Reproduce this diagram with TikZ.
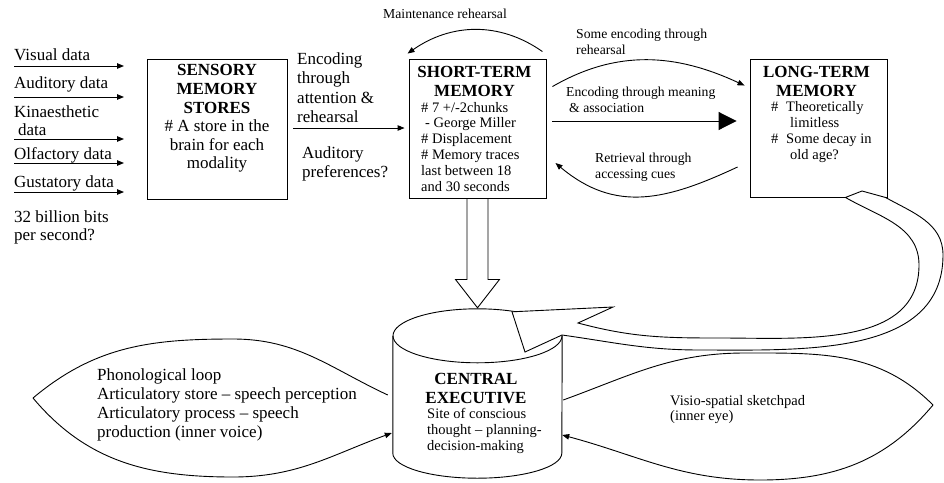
\documentclass[tikz,border=0pt]{standalone}
\usepackage{fontspec}
\setmainfont{Liberation Serif}
\usetikzlibrary{arrows.meta,calc,positioning}

\begin{document}
\begin{tikzpicture}[
    x=1pt, y=1pt,
    membox/.style={rectangle, draw, line width=0.9pt, inner sep=0},
    txtbig/.style={inner sep=0, font=\fontsize{17}{19}\selectfont, align=left},
    txtmid/.style={inner sep=0, font=\fontsize{14.5}{15.8}\selectfont, align=left},
    txtsml/.style={inner sep=0, font=\fontsize{13.7}{16.5}\selectfont, align=left},
    boxhead/.style={inner sep=0, font=\fontsize{17}{18.7}\selectfont\bfseries, align=center},
    arrow/.style={-{Triangle[length=7pt,width=5.5pt]}, line width=0.9pt},
    wire/.style={line width=0.9pt},
    block/.style={line width=0.9pt, draw, fill=white}
]
\useasboundingbox (0,0) rectangle (944,-482);

% Stores
\node[membox, minimum width=140pt, minimum height=140pt] (sensory) at (217,-129) {};
\node[membox, minimum width=137pt, minimum height=139pt] (stm) at (477.5,-128.5) {};
\node[membox, minimum width=137pt, minimum height=138pt] (ltm) at (818.5,-128) {};

\node[txtbig, align=center, font=\fontsize{17}{18.6}\selectfont] (senstext) at (217,-118.6)
    {\textbf{SENSORY}\\\textbf{MEMORY}\\\textbf{STORES}\\\# A store in the\\brain for each\\modality};

\node[boxhead] (stmhead) at (474.5,-81.6) {SHORT-TERM\\MEMORY};
\node[txtmid, anchor=west] (stmtext) at (421,-146.7)
    {\# 7 +/-2chunks\\\hspace*{4pt}- George Miller\\\# Displacement\\\# Memory traces\\last between 18\\and 30 seconds};

\node[boxhead] (ltmhead) at (816.5,-81.6) {LONG-TERM\\MEMORY};
\node[txtmid, anchor=west, font=\fontsize{14.5}{16}\selectfont] (ltmtext) at (771,-132.5)
    {\makebox[15pt][l]{\#}Theoretically\\\hspace*{19pt}limitless\\\makebox[15pt][l]{\#}Some decay in\\\hspace*{19pt}old age?};

% Central executive
\node[minimum width=169pt, minimum height=117pt, inner sep=0] (ce) at (477.5,-394.5) {};
\draw[wire] (ce.north west) -- (ce.south west) arc[start angle=180, end angle=360, x radius=84.5, y radius=25] -- (ce.north east);
\draw[wire] (ce.north) ellipse [x radius=84.5, y radius=27];
\node[boxhead, font=\fontsize{17}{19}\selectfont\bfseries] (cehead) at (476,-388.8) {CENTRAL\\EXECUTIVE};
\node[txtmid, anchor=west, font=\fontsize{14.5}{16}\selectfont] (cetext) at (427,-430.7)
    {Site of conscious\\thought -- planning-\\decision-making};

% Sensory inputs
\foreach \y/\n in {66/vis, 97/aud, 139/kin, 163/olf, 192/gus}
  \draw[arrow] (14,-\y) coordinate (\n-in) -- (124,-\y) coordinate (\n-out);

\node[txtbig, anchor=base west] (vislbl) at (14,-60) {Visual data};
\node[txtbig, anchor=base west] (audlbl) at (14,-88) {Auditory data};
\node[txtbig, anchor=west, font=\fontsize{17}{18}\selectfont] (kinlbl) at (14,-120.3) {Kinaesthetic\\\hspace*{4pt}data};
\node[txtbig, anchor=base west] (olflbl) at (14,-159) {Olfactory data};
\node[txtbig, anchor=base west] (guslbl) at (14,-187) {Gustatory data};
\node[txtbig, anchor=west, font=\fontsize{17}{18}\selectfont] (rate) at (14,-227) {32 billion bits\\per second?};

% Sensory -> short-term
\node[txtbig, anchor=west, font=\fontsize{17}{19.5}\selectfont] (enclbl) at (297,-87.8) {Encoding\\through\\attention \&\\rehearsal};
\node[txtbig, anchor=west] (audpref) at (302,-163.7) {Auditory\\preferences?};
\draw[arrow] ($(sensory.east)+(6,1)$) -- ($(stm.west)+(-4,0.5)$);

% Rehearsal loop
\node[txtsml, anchor=base] (maintlbl) at (445,-18) {Maintenance rehearsal};
\draw[arrow] ($(stm.north east)+(-4,7)$) to[out=145, in=35] ($(stm.north west)+(-1,5)$);

% Short-term <-> long-term
\node[txtsml, anchor=west] (someenc) at (576,-41.7) {Some encoding through\\rehearsal};
\draw[arrow] ($(stm.north east)+(6,-28)$) to[out=30, in=155] ($(ltm.north west)+(-5,-27)$);

\node[txtsml, anchor=west, font=\fontsize{13.7}{16}\selectfont] (meaning) at (566,-99.4) {Encoding through meaning\\\hspace*{3pt}\& association};
\draw[wire, -{Triangle[length=18pt,width=18pt]}] ($(stm.east)+(6,7.5)$) -- ($(ltm.west)+(-13,7)$);

\node[txtsml, anchor=west, font=\fontsize{13.7}{16}\selectfont] (retrieval) at (595,-167) {Retrieval through\\accessing cues};
\draw[arrow] ($(ltm.west)+(-12,-39)$) to[out=205, in=-40, looseness=1.1] ($(stm.east)+(9,-34.5)$);

% Short-term -> central executive
\draw[wire] ($(stm.south)+(-10.5,0)$) -- ++(0,-81) -- ++(-11.5,0) -- ($(ce.north)+(0,28)$)
    -- ($(stm.south)+(22,-81)$) -- ++(-11.5,0) -- ($(stm.south)+(10.5,0)$);

% Long-term -> central executive
\coordinate (tailR) at ($(ltm.south east)+(-2,0)$);
\coordinate (tailL) at ($(ltm.south east)+(-42,0)$);
\coordinate (cetip) at ($(ce.north)+(34.5,24)$);
\draw[block] (cetip) -- (525,-352) -- (562,-335)
    to[out=-8, in=180] (700,-350) to[out=0, in=-90] (943,-255) to[out=90, in=-29] (tailR)
    -- (862,-191) -- (tailL)
    to[out=-30, in=90] (919,-265) to[out=-90, in=0] (720,-338) to[out=180, in=-15] (578,-323)
    -- (613,-307) -- cycle;

% Phonological loop
\node[txtbig, anchor=west] (phon) at (97,-405.3)
    {Phonological loop\\Articulatory store -- speech perception\\Articulatory process -- speech\\production (inner voice)};
\coordinate (phontip) at (33,-398);
\draw[wire] ($(ce.west)+(-5,-0.5)$) to[out=155, in=0] (233,-339) to[out=180, in=40] (phontip);
\draw[arrow] (phontip) to[out=-50, in=180] (233,-477) to[out=0, in=-160] ($(ce.west)+(-1,-38.5)$);

% Visio-spatial sketchpad
\node[txtmid, anchor=west, font=\fontsize{14.5}{15}\selectfont] (visio) at (670,-409.8) {Visio-spatial sketchpad\\(inner eye)};
\coordinate (visiotip) at (933,-405);
\draw[wire] ($(ce.east)+(1,-5.5)$) to[out=20, in=180] (745,-353) to[out=0, in=135] (visiotip);
\draw[arrow] (visiotip) to[out=-130, in=0] (760,-480) to[out=180, in=-15] ($(ce.east)+(0,-40.5)$);

\end{tikzpicture}
\end{document}
